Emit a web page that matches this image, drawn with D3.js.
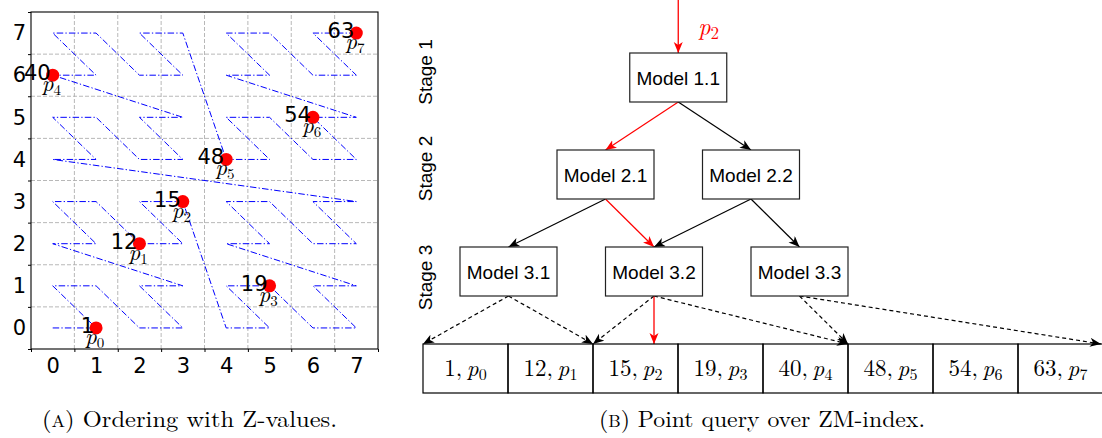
<!DOCTYPE html>
<html><head><meta charset="utf-8">
<script src="https://cdn.jsdelivr.net/npm/d3@7"></script>
<style>body{margin:0;background:#fff}svg{display:block}</style>
</head><body>
<svg id="c" width="1102" height="438"></svg>
<script>
// ---------- data: panel A ----------
const zCurveX = [0,1,0,1,2,3,2,3,0,1,0,1,2,3,2,3, 4,5,4,5,6,7,6,7,4,5,4,5,6,7,6,7,
                 0,1,0,1,2,3,2,3,0,1,0,1,2,3,2,3, 4,5,4,5,6,7,6,7,4,5,4,5,6,7,6,7];
const zCurveY = [0,0,1,1,0,0,1,1,2,2,3,3,2,2,3,3, 0,0,1,1,0,0,1,1,2,2,3,3,2,2,3,3,
                 4,4,5,5,4,4,5,5,6,6,7,7,6,6,7,7, 4,4,5,5,4,4,5,5,6,6,7,7,6,6,7,7];
const pointZ = [1, 12, 15, 19, 40, 48, 54, 63];
const pointX = [1, 2, 3, 5, 0, 4, 6, 7];
const pointY = [0, 2, 3, 1, 6, 4, 5, 7];
const pointIdx = [0, 1, 2, 3, 4, 5, 6, 7];
const tickLabels = [0, 1, 2, 3, 4, 5, 6, 7];
const gridLines = [-0.5, 0.5, 1.5, 2.5, 3.5, 4.5, 5.5, 6.5, 7.5];

// ---------- data: panel B ----------
const stage1Models = ["Model 1.1"];
const stage2Models = ["Model 2.1", "Model 2.2"];
const stage3Models = ["Model 3.1", "Model 3.2", "Model 3.3"];
const stageLabels = ["Stage 1", "Stage 2", "Stage 3"];
const modelEdges = [
  ["Model 1.1", "Model 2.1", true], ["Model 1.1", "Model 2.2", false],
  ["Model 2.1", "Model 3.1", false], ["Model 2.1", "Model 3.2", true],
  ["Model 2.2", "Model 3.2", false], ["Model 2.2", "Model 3.3", false]];
const leafRanges = [[0, 2], [2, 5], [5, 8]];   // array boundaries covered by stage-3 models
const arrayKeys = [1, 12, 15, 19, 40, 48, 54, 63];
const arrayPoints = [0, 1, 2, 3, 4, 5, 6, 7];
const queryPoint = 2;
const queryLeaf = "Model 3.2";
const captions = ["A", "B"];
const captionTexts = [" Ordering with Z-values.", " Point query over ZM-index."];

const svg = d3.select("#c");
const serif = "'Latin Modern Roman', 'Liberation Serif', serif";
const sans = "'Liberation Sans', Arial, sans-serif";
const dv = "'DejaVu Sans', sans-serif";

// ================= Panel A =================
const xS = d3.scaleLinear().domain([-0.5, 7.5]).range([31, 378]);
const yS = d3.scaleLinear().domain([-0.5, 7.5]).range([349, 12]);
const gA = svg.append("g");

// grid
gA.selectAll("line.gx").data(gridLines.slice(1, -1)).join("line")
  .attr("x1", d => xS(d)).attr("x2", d => xS(d)).attr("y1", yS(-0.5)).attr("y2", yS(7.5))
  .attr("stroke", "#b0b0b0").attr("stroke-width", 0.9).attr("stroke-dasharray", "4,2");
gA.selectAll("line.gy").data(gridLines.slice(1, -1)).join("line")
  .attr("y1", d => yS(d)).attr("y2", d => yS(d)).attr("x1", xS(-0.5)).attr("x2", xS(7.5))
  .attr("stroke", "#b0b0b0").attr("stroke-width", 0.9).attr("stroke-dasharray", "4,2");

// tick marks at half integers
const tb = gA.append("g").attr("transform", `translate(0,${yS(-0.5)})`)
  .call(d3.axisBottom(xS).tickValues(gridLines).tickSize(3).tickFormat(""));
tb.select(".domain").remove();
const tl = gA.append("g").attr("transform", `translate(${xS(-0.5)},0)`)
  .call(d3.axisLeft(yS).tickValues(gridLines).tickSize(3).tickFormat(""));
tl.select(".domain").remove();
// labels at integers
const lb = gA.append("g").attr("transform", `translate(0,${yS(-0.5)})`)
  .call(d3.axisBottom(xS).tickValues(tickLabels).tickSize(0).tickPadding(9).tickFormat(d3.format("d")));
lb.select(".domain").remove();
lb.selectAll("text").style("font-family", dv).style("font-size", "21px").attr("fill", "#000");
const ll = gA.append("g").attr("transform", `translate(${xS(-0.5)},0)`)
  .call(d3.axisLeft(yS).tickValues(tickLabels).tickSize(0).tickPadding(5).tickFormat(d3.format("d")));
ll.select(".domain").remove();
ll.selectAll("text").style("font-family", dv).style("font-size", "21px").attr("fill", "#000");

// Z-curve
const zLine = d3.line().x(i => xS(zCurveX[i])).y(i => yS(zCurveY[i]));
gA.append("path").attr("d", zLine(d3.range(zCurveX.length)))
  .attr("fill", "none").attr("stroke", "#0000ff").attr("stroke-width", 1)
  .attr("stroke-dasharray", "6.5,2.2,1.3,2.2");

// frame
gA.append("rect").attr("x", xS(-0.5)).attr("y", yS(7.5))
  .attr("width", xS(7.5) - xS(-0.5)).attr("height", yS(-0.5) - yS(7.5))
  .attr("fill", "none").attr("stroke", "#000").attr("stroke-width", 1.1);

// points
gA.selectAll("circle.pt").data(pointIdx).join("circle")
  .attr("cx", i => xS(pointX[i])).attr("cy", i => yS(pointY[i])).attr("r", 6.5).attr("fill", "#ff0000");
gA.selectAll("text.z").data(pointIdx).join("text")
  .attr("x", i => xS(pointX[i]) - 2).attr("y", i => yS(pointY[i]) + 5)
  .attr("text-anchor", "end").style("font-family", dv).style("font-size", "21px")
  .text(i => pointZ[i]);
const pl = gA.selectAll("text.p").data(pointIdx).join("text")
  .attr("x", i => xS(pointX[i]) - 11).attr("y", i => yS(pointY[i]) + 16)
  .style("font-family", serif);
pl.append("tspan").style("font-style", "italic").style("font-size", "23px").text("p");
pl.append("tspan").style("font-size", "15px").attr("dy", 4).text(i => i);

// ================= Panel B =================
const gB = svg.append("g");
const defs = svg.append("defs");
function marker(id, color) {
  defs.append("marker").attr("id", id).attr("markerUnits", "userSpaceOnUse")
    .attr("markerWidth", 12).attr("markerHeight", 10).attr("refX", 11).attr("refY", 4.5)
    .attr("orient", "auto")
    .append("path").attr("d", "M0,0 L11,4.5 L0,9 L3,4.5 Z").attr("fill", color);
}
marker("ab", "#000"); marker("ar", "#ff0000");

const stageModels = [stage1Models, stage2Models, stage3Models];
const stageSlots = [[7 / 6], [2 / 3, 5 / 3], [0, 1, 2]];
const slotX = d3.scaleLinear().domain([0, 2]).range([508.5, 799.5]);
const stageTop = d3.scaleLinear().domain([0, 2]).range([53, 247]);
const boxW = 97, boxH = 49;
const models = new Map();
stageModels.forEach((arr, s) => arr.forEach((name, j) => {
  models.set(name, { name, cx: slotX(stageSlots[s][j]), top: stageTop(s) });
}));
const arrX = d3.scaleLinear().domain([0, 8]).range([423, 1103]);
const arrTop = 344, arrH = 49;

// query arrow from top
const root = models.get(stage1Models[0]);
gB.append("line").attr("x1", root.cx).attr("x2", root.cx).attr("y1", 0).attr("y2", root.top)
  .attr("stroke", "#ff0000").attr("stroke-width", 1.3).attr("marker-end", "url(#ar)");
const ql = gB.append("text").attr("x", root.cx + 20).attr("y", 35).attr("fill", "#ff0000").style("font-family", serif);
ql.append("tspan").style("font-style", "italic").style("font-size", "24px").text("p");
ql.append("tspan").style("font-size", "17px").attr("dy", 4).text(queryPoint);

// model edges
gB.selectAll("line.me").data(modelEdges).join("line")
  .attr("x1", d => models.get(d[0]).cx).attr("y1", d => models.get(d[0]).top + boxH)
  .attr("x2", d => models.get(d[1]).cx).attr("y2", d => models.get(d[1]).top)
  .attr("stroke", d => d[2] ? "#ff0000" : "#000").attr("stroke-width", 1.2)
  .attr("marker-end", d => d[2] ? "url(#ar)" : "url(#ab)");

// leaf dashed edges
const leafEdges = [];
stage3Models.forEach((m, i) => leafRanges[i].forEach(b => leafEdges.push([m, b])));
gB.selectAll("line.le").data(leafEdges).join("line")
  .attr("x1", d => models.get(d[0]).cx).attr("y1", d => models.get(d[0]).top + boxH)
  .attr("x2", d => Math.min(arrX(d[1]), 1101)).attr("y2", arrTop)
  .attr("stroke", "#000").attr("stroke-width", 1.2).attr("stroke-dasharray", "4,3")
  .attr("marker-end", "url(#ab)");
const ql3 = models.get(queryLeaf);
gB.append("line").attr("x1", ql3.cx).attr("x2", ql3.cx).attr("y1", ql3.top + boxH).attr("y2", arrTop)
  .attr("stroke", "#ff0000").attr("stroke-width", 1.3).attr("marker-end", "url(#ar)");

// boxes
const mg = gB.selectAll("g.m").data([...models.values()]).join("g");
mg.append("rect").attr("x", d => d.cx - boxW / 2).attr("y", d => d.top).attr("width", boxW).attr("height", boxH)
  .attr("fill", "#fff").attr("stroke", "#222").attr("stroke-width", 1.2);
mg.append("text").attr("x", d => d.cx).attr("y", d => d.top + boxH / 2 + 7)
  .attr("text-anchor", "middle").style("font-family", sans).style("font-size", "19px").text(d => d.name);

// stage labels
const stageLabelY = [72, 168.5, 277.5];
gB.selectAll("text.st").data(stageLabels).join("text")
  .attr("transform", (d, i) => `translate(432,${stageLabelY[i]}) rotate(-90)`)
  .attr("text-anchor", "middle").style("font-family", sans).style("font-size", "19px").text(d => d);

// array
const cells = gB.selectAll("g.cell").data(arrayPoints).join("g");
cells.append("rect").attr("x", i => arrX(i)).attr("y", arrTop).attr("width", arrX(1) - arrX(0)).attr("height", arrH)
  .attr("fill", "none").attr("stroke", "#000").attr("stroke-width", 1.2);
const ct = cells.append("text").attr("x", i => (arrX(i) + arrX(i + 1)) / 2).attr("y", arrTop + 32)
  .attr("text-anchor", "middle").style("font-family", serif).style("font-size", "23px");
ct.append("tspan").text(i => arrayKeys[i] + ",\u2009");
ct.append("tspan").style("font-style", "italic").text("p");
ct.append("tspan").style("font-size", "16px").attr("dy", 4).text(i => i);

// ================= captions =================
const capX = [42, 599], capW = [295, 326];
captions.forEach((c, i) => {
  const t = svg.append("text").attr("x", capX[i]).attr("y", 427).style("font-family", serif)
    .style("font-size", "23px").attr("textLength", capW[i]).attr("lengthAdjust", "spacingAndGlyphs");
  t.append("tspan").text("(");
  t.append("tspan").style("font-size", "17px").text(c);
  t.append("tspan").text(")" + captionTexts[i]);
});
</script>
</body></html>
